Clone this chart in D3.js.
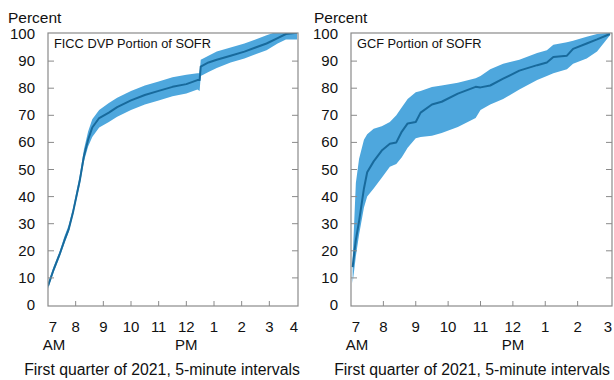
<!DOCTYPE html>
<html lang="en">
<head>
<meta charset="UTF-8">
<title>Portion of SOFR by time of day</title>
<script src="https://d3js.org/d3.v7.min.js"></script>
<style>
  body { margin: 0; background: #fff; font-family: Arial, "Liberation Sans", sans-serif; }
  svg text { fill: #111; }
</style>
</head>
<body>
<div id="chart"></div>
<script>
// hours of day (decimal), median share and band (low/high), percent
const dvpTimes  = [7.0, 7.2, 7.43, 7.6, 7.75, 7.9, 8.15, 8.3, 8.45, 8.6, 8.85, 9.2, 9.5, 10.0, 10.5, 11.0, 11.5, 12.0, 12.4, 12.48, 12.52, 12.8, 13.1, 13.6, 14.1, 14.5, 14.9, 15.3, 15.6, 16.0];
const dvpMedian = [7, 13, 19, 24, 28, 34, 46, 55, 61, 65.5, 69, 71, 73, 75.5, 77.5, 79, 80.5, 81.5, 83, 83, 88, 89.5, 90.5, 92, 93.5, 95, 96.5, 98.5, 100, 100.5];
const dvpLow    = [6, 12, 18, 23, 27, 33, 44.5, 53, 58.5, 62, 65.5, 67.5, 69.5, 72, 74, 75.5, 77, 78, 79.5, 79, 84.5, 86, 87.5, 89.5, 91, 92.5, 94, 96.5, 98, 98];
const dvpHigh   = [8, 14, 20, 25.5, 29.5, 35.5, 48, 57.5, 64, 68.5, 72, 74.5, 76.5, 79, 81, 82.5, 84, 85, 85.5, 85.5, 90.5, 92, 93.5, 95, 96.5, 98, 99.5, 101, 102, 102];

const gcfTimes  = [7.05, 7.15, 7.25, 7.4, 7.5, 7.7, 7.95, 8.2, 8.4, 8.57, 8.75, 9.0, 9.15, 9.5, 9.8, 10.3, 10.85, 11.0, 11.3, 11.7, 12.2, 12.75, 13.05, 13.25, 13.67, 13.86, 14.28, 14.6, 15.0];
const gcfMedian = [14, 24, 31, 43, 49, 53, 57, 59.5, 60, 64, 67, 67.5, 71, 74, 75, 78, 80.5, 80.3, 81, 83.5, 86.5, 88.5, 89.5, 91.5, 92, 94.5, 96.5, 98, 100];
const gcfLow    = [8, 18, 26, 36, 40, 43, 47, 51, 52, 54.5, 58, 61.5, 62, 62.5, 63.5, 65.7, 69, 72, 74, 76, 79.5, 83, 84.5, 85.5, 87, 89, 91, 93.5, 99.5];
const gcfHigh   = [17, 45, 54, 61, 63, 65, 66, 67.5, 70, 73, 76, 78.5, 79, 80.4, 81, 82, 83.7, 84.5, 87, 89, 90.5, 93, 94, 96, 97, 97.5, 99, 100, 100.5];

const yTicks = [0, 10, 20, 30, 40, 50, 60, 70, 80, 90, 100];
const hourLabels = {7: "7", 8: "8", 9: "9", 10: "10", 11: "11", 12: "12", 13: "1", 14: "2", 15: "3", 16: "4"};

const W = 614, H = 380;
const bandColor = "#4ea7dd", lineColor = "#186a9c", frameColor = "#8a8a8a";

const svg = d3.select("#chart").append("svg")
  .attr("width", W).attr("height", H);

function drawPanel(p) {
  const x = d3.scaleLinear().domain(p.xDomain).range([p.x0, p.x1]);
  const y = d3.scaleLinear().domain([0, 100]).range([305, 34]);
  const top = 33, bottom = 306;

  const rows = p.times.map((t, i) => ({t, m: p.median[i], lo: p.low[i], hi: p.high[i]}));
  const g = svg.append("g");

  g.append("clipPath").attr("id", p.id + "clip")
    .append("rect").attr("x", p.x0).attr("y", top).attr("width", p.x1 - p.x0 + 1).attr("height", bottom - top);

  const plot = g.append("g").attr("clip-path", `url(#${p.id}clip)`);
  plot.append("path").datum(rows)
    .attr("fill", bandColor)
    .attr("d", d3.area().x(d => x(d.t)).y0(d => y(d.lo)).y1(d => y(d.hi)));
  plot.append("path").datum(rows)
    .attr("fill", "none").attr("stroke", lineColor).attr("stroke-width", 2)
    .attr("stroke-linejoin", "round")
    .attr("d", d3.line().x(d => x(d.t)).y(d => y(d.m)));

  // frame
  g.append("rect").attr("x", p.x0).attr("y", top)
    .attr("width", p.frameRight - p.x0).attr("height", bottom - top)
    .attr("fill", "none").attr("stroke", frameColor).attr("stroke-width", 1.2);

  // y ticks, inward on both sides
  yTicks.forEach(v => {
    if (v > 0 && v < 100) {
      g.append("line").attr("x1", p.x0).attr("x2", p.x0 + 6).attr("y1", y(v)).attr("y2", y(v))
        .attr("stroke", frameColor);
      g.append("line").attr("x1", p.frameRight - 6).attr("x2", p.frameRight).attr("y1", y(v)).attr("y2", y(v))
        .attr("stroke", frameColor);
    }
    g.append("text").attr("x", p.x0 - 13).attr("y", y(v) + 5)
      .attr("text-anchor", "end").attr("font-size", 15).text(v);
  });

  // x ticks (upward) and hour labels
  d3.range(p.xDomain[0], p.xDomain[1] + 1).forEach(h => {
    const xx = x(h);
    if (h > p.xDomain[0] && h < p.xDomain[1]) {
      g.append("line").attr("x1", xx).attr("x2", xx).attr("y1", bottom).attr("y2", bottom - 5)
        .attr("stroke", frameColor);
    }
    const lx = Math.max(p.x0 + 5, Math.min(p.frameRight - 4, xx));
    g.append("text").attr("x", lx).attr("y", 332)
      .attr("text-anchor", "middle").attr("font-size", 15).text(hourLabels[h]);
  });
  g.append("text").attr("x", x(7) + 6).attr("y", 350).attr("text-anchor", "middle")
    .attr("font-size", 15).text("AM");
  g.append("text").attr("x", x(12)).attr("y", 350).attr("text-anchor", "middle")
    .attr("font-size", 15).text("PM");

  g.append("text").attr("x", p.labelX).attr("y", 23).attr("font-size", 15.5).text("Percent");
  g.append("text").attr("x", p.x0 + 6).attr("y", 48).attr("font-size", 12.8).text(p.title);
  g.append("text").attr("x", p.xTitleX).attr("y", 375).attr("text-anchor", "middle")
    .attr("font-size", 15.8).text("First quarter of 2021, 5-minute intervals");
}

drawPanel({
  id: "dvp", title: "FICC DVP Portion of SOFR",
  times: dvpTimes, median: dvpMedian, low: dvpLow, high: dvpHigh,
  xDomain: [7, 16], x0: 48, x1: 297, frameRight: 298, labelX: 8, xTitleX: 162
});
drawPanel({
  id: "gcf", title: "GCF Portion of SOFR",
  times: gcfTimes, median: gcfMedian, low: gcfLow, high: gcfHigh,
  xDomain: [7, 15], x0: 351, x1: 610, frameRight: 612, labelX: 314, xTitleX: 472
});
</script>
</body>
</html>
